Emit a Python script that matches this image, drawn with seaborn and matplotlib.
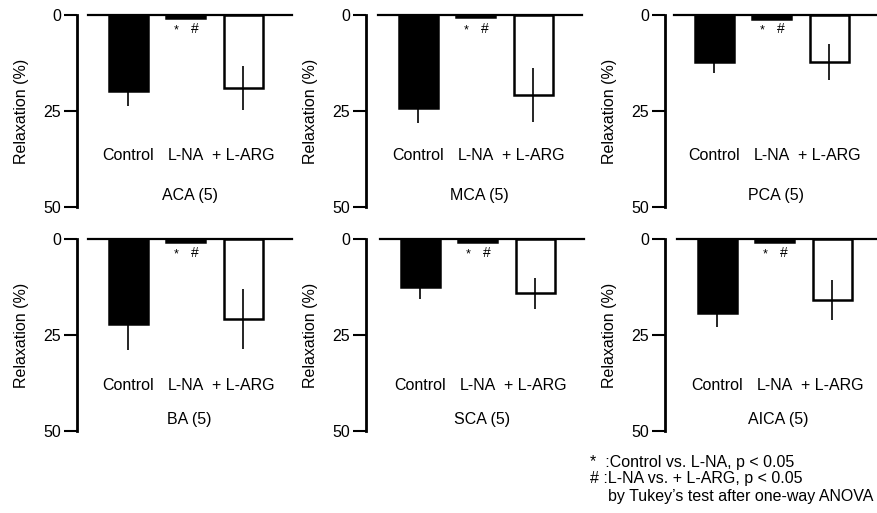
import numpy as np
import pandas as pd
import matplotlib
matplotlib.use("Agg")
import matplotlib.pyplot as plt
import seaborn as sns

# ---- data ----
conditions = ["Control", "L-NA", "+ L-ARG"]
vessels = ["ACA", "MCA", "PCA", "BA", "SCA", "AICA"]
n_animals = [5, 5, 5, 5, 5, 5]
aca_mean = [19.7, 0.9, 19.1]
aca_sem = [4.0, 0.0, 5.7]
mca_mean = [24.2, 0.5, 20.9]
mca_sem = [3.8, 0.0, 7.0]
pca_mean = [12.2, 1.0, 12.2]
pca_sem = [3.0, 0.0, 4.7]
ba_mean = [22.1, 0.7, 20.8]
ba_sem = [6.8, 0.0, 7.8]
sca_mean = [12.4, 0.7, 14.1]
sca_sem = [3.2, 0.0, 4.0]
aica_mean = [19.2, 0.7, 15.9]
aica_sem = [3.8, 0.0, 5.1]
y_ticks = [0, 25, 50]
footnotes = ["*  :Control vs. L-NA, p < 0.05",
             "# :L-NA vs. + L-ARG, p < 0.05",
             "    by Tukey\u2019s test after one-way ANOVA"]

means = [aca_mean, mca_mean, pca_mean, ba_mean, sca_mean, aica_mean]
sems = [aca_sem, mca_sem, pca_sem, ba_sem, sca_sem, aica_sem]

sns.set_style("ticks")
plt.rcParams["font.family"] = ["Liberation Sans", "DejaVu Sans"]
plt.rcParams["font.size"] = 11.5
for key in ["text.color", "axes.labelcolor", "xtick.color", "ytick.color", "axes.edgecolor"]:
    plt.rcParams[key] = "black"

FS = 11.5
W, H = 877, 513
fig = plt.figure(figsize=(W / 100, H / 100), dpi=100)

spine_x = [[77, 366, 665], [77, 366, 665]]
ax_left = [[88, 378, 674], [88, 380, 677]]
row_top = [15, 239]
ax_h = 192
ax_w = 204

palette = {"Control": "black", "L-NA": "black", "+ L-ARG": "white"}

for i, v in enumerate(vessels):
    r, c = divmod(i, 3)
    left = ax_left[r][c]
    ax = fig.add_axes([left / W, 1 - (row_top[r] + ax_h) / H, ax_w / W, ax_h / H])
    df = pd.DataFrame({"cond": conditions, "val": means[i]})
    sns.barplot(data=df, x="cond", y="val", hue="cond", palette=palette,
                order=conditions, hue_order=conditions, legend=False,
                width=0.68, edgecolor="black", linewidth=1.8, ax=ax, errorbar=None)
    ax.errorbar(x=np.arange(3), y=means[i], yerr=sems[i], fmt="none",
                ecolor="black", elinewidth=1.2, capsize=0, zorder=5)
    ax.set_ylim(50, 0)
    ax.set_xlim(-0.7, 2.85)
    ax.set_yticks(y_ticks)
    ax.set_xticks([])
    ax.set_xlabel("")
    ax.set_ylabel("Relaxation (%)", fontsize=FS, labelpad=10)
    for s in ["bottom", "right"]:
        ax.spines[s].set_visible(False)
    ax.spines["top"].set_linewidth(1.6)
    ax.spines["left"].set_linewidth(2.0)
    ax.spines["left"].set_position(("outward", (left - spine_x[r][c]) * 0.72))
    ax.tick_params(axis="y", length=9.5, width=1.5, pad=2, labelsize=FS)
    ax.patch.set_alpha(0)
    lab_y = 36.5 if r == 0 else 38.2
    for j, cname in enumerate(conditions):
        ax.text(j, lab_y, cname, ha="center", va="center", fontsize=FS)
    ax.text(1.07, 47.0, f"{v} ({n_animals[i]})", ha="center", va="center", fontsize=FS)
    ax.text(0.83, 4.8, "*", ha="center", va="baseline", fontsize=9)
    ax.text(1.16, 4.8, "#", ha="center", va="baseline", fontsize=10)

for k, line in enumerate(footnotes):
    fig.text(590 / W, 1 - (462 + 17 * k) / H, line, ha="left", va="center", fontsize=FS)

fig.savefig("out.png", dpi=100)
